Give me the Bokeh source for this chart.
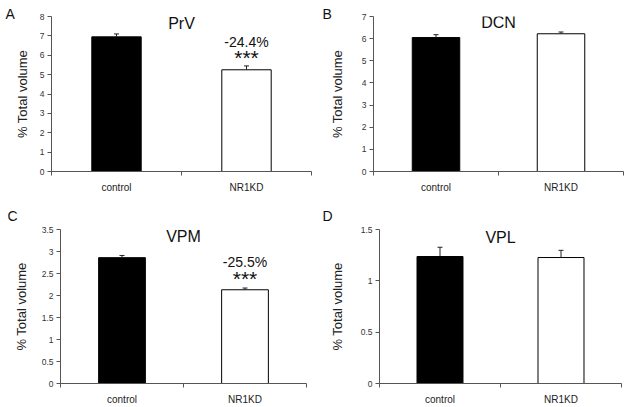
from bokeh.plotting import figure
from bokeh.layouts import column, row
from bokeh.models import (Range1d, FixedTicker, Label, Whisker, TeeHead,
                          ColumnDataSource, CustomJSTickFormatter)
from bokeh.embed import file_html
from bokeh.resources import INLINE

# ---------------- data ----------------
categories = ["control", "NR1KD"]
bar_colors = ["black", "white"]

panel_letters = ["A", "B", "C", "D"]
regions = ["PrV", "DCN", "VPM", "VPL"]

prv_means = [6.95, 5.25]
prv_sem = [0.15, 0.20]
dcn_means = [6.05, 6.22]
dcn_sem = [0.13, 0.08]
vpm_means = [2.86, 2.13]
vpm_sem = [0.05, 0.04]
vpl_means = [1.237, 1.227]
vpl_sem = [0.09, 0.07]

prv_ticks = [0, 1, 2, 3, 4, 5, 6, 7, 8]
dcn_ticks = [0, 1, 2, 3, 4, 5, 6, 7]
vpm_ticks = [0, 0.5, 1, 1.5, 2, 2.5, 3, 3.5]
vpl_ticks = [0, 0.5, 1, 1.5]

prv_change = "-24.4%"
vpm_change = "-25.5%"
significance = "***"

y_label = "% Total volume"

FONT = "Liberation Sans"


def make_panel(letter, region, means, sems, ticks, width, height, borders,
               letter_offset, letter_standoff, title_y, axis_standoff,
               change=None, change_y=None, star_y=None):
    l, r, t, b = borders
    p = figure(width=width, height=height, output_backend="svg",
               toolbar_location=None,
               x_range=Range1d(0, len(categories)),
               y_range=Range1d(ticks[0], ticks[-1]),
               min_border_left=l, min_border_right=r,
               min_border_top=t, min_border_bottom=b)
    p.outline_line_color = None
    p.xgrid.grid_line_color = None
    p.ygrid.grid_line_color = None
    p.background_fill_color = "white"
    p.border_fill_color = "white"

    # panel letter as the figure title, pulled to the left of the axis
    p.title.text = letter
    p.title.align = "left"
    p.title.offset = letter_offset
    p.title.standoff = letter_standoff
    p.title.vertical_align = "bottom"
    p.title.text_font = FONT
    p.title.text_font_size = "14px"
    p.title.text_font_style = "normal"
    p.title.text_color = "#111111"

    xs = [i + 0.5 for i in range(len(categories))]
    src = ColumnDataSource(dict(x=xs, top=means, color=bar_colors,
                                upper=[m + s for m, s in zip(means, sems)]))
    p.vbar(x="x", top="top", bottom=0, width=0.38, fill_color="color",
           line_color="black", line_width=1, source=src)
    w = Whisker(base="x", lower="top", upper="upper", source=src,
                dimension="height", lower_head=None,
                upper_head=TeeHead(size=5, line_color="#222222", line_width=1),
                line_color="#222222", line_width=1, level="overlay")
    p.add_layout(w)

    # y axis
    ya = p.yaxis[0]
    ya.ticker = FixedTicker(ticks=ticks)
    ya.formatter = CustomJSTickFormatter(code="return String(Math.round(tick*10)/10)")
    ya.major_tick_out = 4
    ya.major_tick_in = 0
    ya.minor_tick_line_color = None
    ya.axis_line_color = "#555555"
    ya.major_tick_line_color = "#555555"
    ya.major_label_text_font = FONT
    ya.major_label_text_font_size = "8.5px"
    ya.major_label_text_color = "#333333"
    ya.major_label_standoff = 3
    ya.axis_label = y_label
    ya.axis_label_text_font = FONT
    ya.axis_label_text_font_size = "13px"
    ya.axis_label_text_font_style = "normal"
    ya.axis_label_text_color = "#222222"
    ya.axis_label_standoff = axis_standoff

    # x axis
    xa = p.xaxis[0]
    xa.ticker = FixedTicker(ticks=xs, minor_ticks=list(range(len(categories) + 1)))
    xa.major_label_overrides = {x: c for x, c in zip(xs, categories)}
    xa.major_tick_line_color = None
    xa.major_tick_out = 0
    xa.major_tick_in = 0
    xa.minor_tick_out = 4
    xa.minor_tick_in = 0
    xa.minor_tick_line_color = "#555555"
    xa.axis_line_color = "#555555"
    xa.major_label_text_font = FONT
    xa.major_label_text_font_size = "10px"
    xa.major_label_text_color = "#222222"
    xa.major_label_standoff = 6

    p.add_layout(Label(x=len(categories) / 2, y=title_y, x_units="data",
                       y_units="screen", text=region, text_font=FONT,
                       text_font_size="16px", text_color="#111111",
                       text_align="center", text_baseline="alphabetic"))
    if change is not None:
        p.add_layout(Label(x=xs[1], y=change_y, x_units="data",
                           y_units="screen", text=change, text_font=FONT,
                           text_font_size="14px", text_color="#111111",
                           text_align="center", text_baseline="alphabetic"))
        p.add_layout(Label(x=xs[1], y=star_y, x_units="data",
                           y_units="screen", text=significance,
                           text_font=FONT, text_font_size="21px",
                           text_font_style="normal", text_color="#111111",
                           text_align="center", text_baseline="alphabetic"))
    return p


pa = make_panel(panel_letters[0], regions[0], prv_means, prv_sem, prv_ticks,
                318, 199, (51, 7, 16, 28), -46, -10, 148, 7,
                prv_change, 130, 114)
pb = make_panel(panel_letters[1], regions[1], dcn_means, dcn_sem, dcn_ticks,
                311, 199, (55, 6, 16, 27), -51, -10, 149, 14)
pc = make_panel(panel_letters[2], regions[2], vpm_means, vpm_sem, vpm_ticks,
                318, 208, (60, 12, 30, 24), -53, 12, 147, 10,
                vpm_change, 122, 105)
pd = make_panel(panel_letters[3], regions[3], vpl_means, vpl_sem, vpl_ticks,
                311, 208, (61, 8, 30, 24), -57, 12, 146, 13)

layout = column(row(pa, pb), row(pc, pd))

open("out.html", "w").write(file_html(layout, INLINE))
